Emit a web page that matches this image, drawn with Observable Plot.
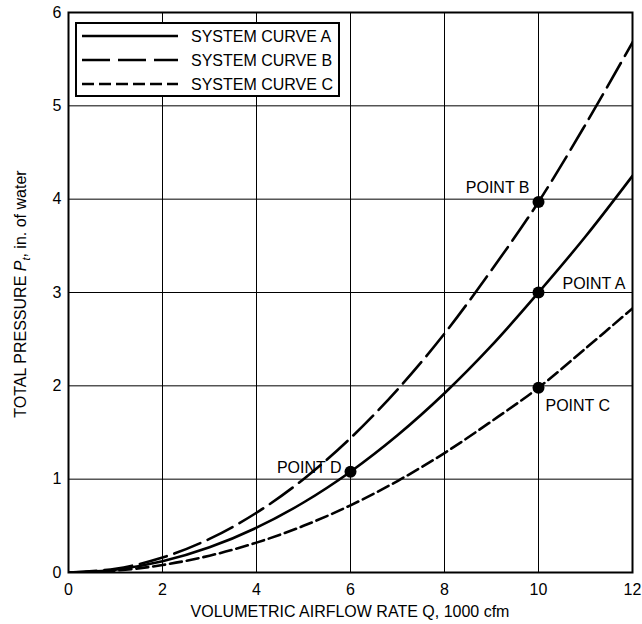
<!DOCTYPE html>
<html><head><meta charset="utf-8">
<script src="https://cdn.jsdelivr.net/npm/d3@7"></script>
<script src="https://cdn.jsdelivr.net/npm/@observablehq/plot@0.6"></script>
<style>
body{margin:0;background:#fff;font-family:"Liberation Sans",Arial,sans-serif}
</style>
</head><body><div id="chart"></div>
<script>
const flow   = [0, 1, 2, 3, 4, 5, 6, 7, 8, 9, 10, 11, 12];
const curveA = [0, 0.03, 0.12, 0.27, 0.48, 0.75, 1.08, 1.47, 1.92, 2.43, 3.0, 3.6, 4.25];
const curveB = [0, 0.04, 0.16, 0.36, 0.64, 1.0, 1.44, 1.96, 2.56, 3.24, 3.97, 4.8, 5.68];
const curveC = [0, 0.02, 0.08, 0.18, 0.32, 0.5, 0.72, 0.98, 1.28, 1.62, 1.98, 2.4, 2.83];
const seriesNames = ["SYSTEM CURVE A", "SYSTEM CURVE B", "SYSTEM CURVE C"];
const pointNames = ["POINT A", "POINT B", "POINT C", "POINT D"];
const pointQ = [10, 10, 10, 6];
const pointP = [3.0, 3.97, 1.98, 1.08];
const xTicks = [0, 2, 4, 6, 8, 10, 12];
const yTicks = [0, 1, 2, 3, 4, 5, 6];
const xLabel = "VOLUMETRIC AIRFLOW RATE Q, 1000 cfm";

const FS = 16;
const dashes = ["none", "28,8", "12,5"];
const series = [curveA, curveB, curveC];
const lines = series.map((vals, i) => flow.map((q, j) => ({q, p: vals[j], s: seriesNames[i]})));
const pts = pointNames.map((n, i) => ({n, q: pointQ[i], p: pointP[i]}));
const labelOff = {
  "POINT A": {dx: 24, dy: -9, anchor: "start"},
  "POINT B": {dx: -9, dy: -14, anchor: "end"},
  "POINT C": {dx: 7, dy: 18, anchor: "start"},
  "POINT D": {dx: -9, dy: -4, anchor: "end"}
};

const marks = [
  Plot.ruleX(xTicks, {stroke: "#000", strokeWidth: 1}),
  Plot.ruleY(yTicks, {stroke: "#000", strokeWidth: 1}),
  ...lines.map((d, i) => Plot.line(d, {x: "q", y: "p", curve: "catmull-rom", stroke: "#000", strokeWidth: 2.6, strokeDasharray: dashes[i], clip: true})),
  Plot.dot(pts, {x: "q", y: "p", r: 6, fill: "#000", stroke: "none"}),
  ...pointNames.map(n => Plot.text(pts.filter(d => d.n === n), {x: "q", y: "p", text: "n", dx: labelOff[n].dx, dy: labelOff[n].dy, textAnchor: labelOff[n].anchor, fontSize: FS, fill: "#000"})),
  Plot.frame({stroke: "#000", strokeWidth: 2}),
  Plot.axisX(xTicks, {tickSize: 0, tickPadding: 11, fontSize: FS, tickFormat: d3.format("d"), label: null}),
  Plot.axisY(yTicks, {tickSize: 0, tickPadding: 7, fontSize: FS, tickFormat: d3.format("d"), label: null})
];

const chart = Plot.plot({
  width: 642, height: 624,
  marginLeft: 68, marginRight: 10, marginTop: 12, marginBottom: 52,
  style: {fontFamily: "'Liberation Sans', Arial, sans-serif", fontSize: FS + "px", color: "#000", background: "#fff"},
  x: {domain: [0, 12]},
  y: {domain: [0, 6]},
  marks
});

const svg = d3.select(chart);
// x axis title
svg.append("text").attr("x", 350).attr("y", 617).attr("text-anchor", "middle")
  .attr("font-size", FS).attr("fill", "#000").text(xLabel);
// y axis title with italic P and subscript t
const yt = svg.append("text").attr("transform", "translate(26,294) rotate(-90)")
  .attr("text-anchor", "middle").attr("font-size", FS).attr("fill", "#000");
yt.append("tspan").text("TOTAL PRESSURE ");
yt.append("tspan").attr("font-style", "italic").text("P");
yt.append("tspan").attr("font-style", "italic").attr("font-size", 11).attr("dy", 4).text("t");
yt.append("tspan").attr("dy", -4).text(", in. of water");

// legend
const lg = svg.append("g");
lg.append("rect").attr("x", 76).attr("y", 23).attr("width", 263).attr("height", 73)
  .attr("fill", "#fff").attr("stroke", "#000").attr("stroke-width", 2);
seriesNames.forEach((name, i) => {
  const y = 36 + i * 24;
  lg.append("line").attr("x1", 82).attr("x2", 178).attr("y1", y).attr("y2", y)
    .attr("stroke", "#000").attr("stroke-width", 2.6).attr("stroke-dasharray", dashes[i]);
  lg.append("text").attr("x", 191).attr("y", y + 6).attr("text-anchor", "start")
    .attr("font-size", FS).attr("fill", "#000").text(name);
});

document.getElementById("chart").appendChild(chart);
</script>
</body></html>
